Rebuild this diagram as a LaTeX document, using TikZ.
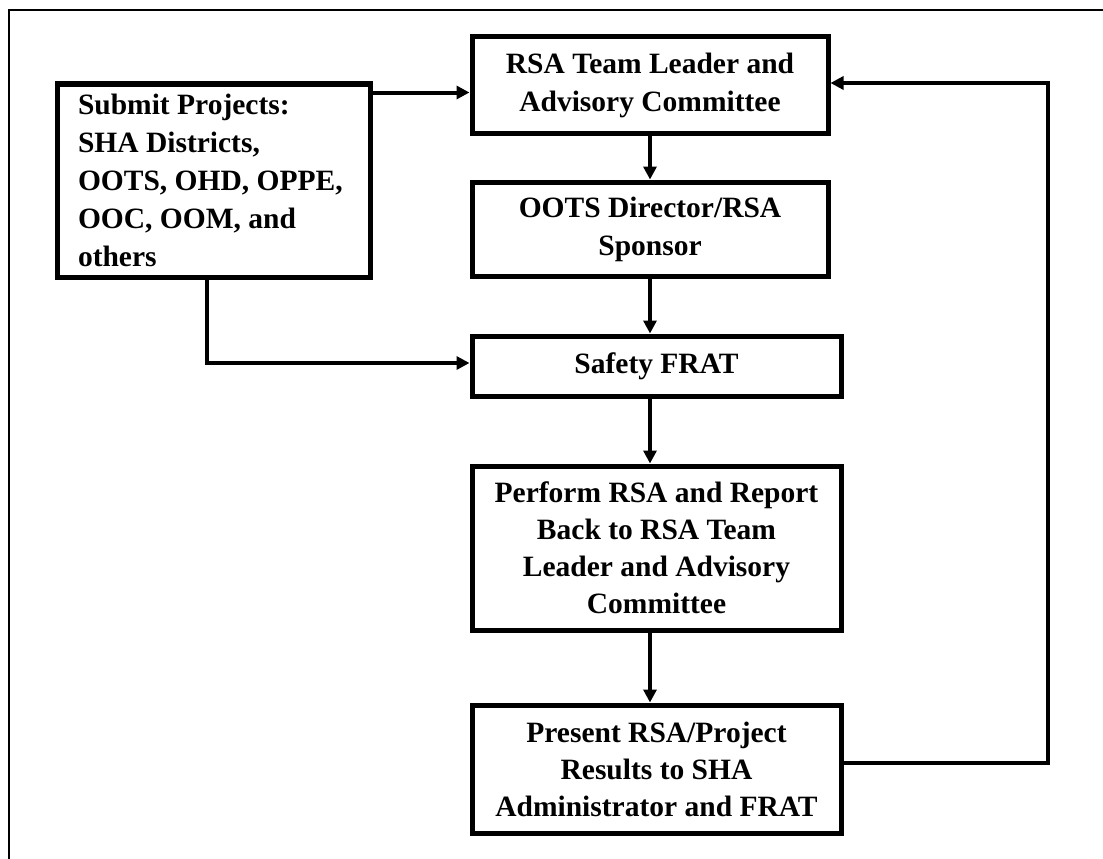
\documentclass[tikz,border=0pt]{standalone}
\usepackage{fontspec}
\setmainfont{Liberation Serif}
\usetikzlibrary{arrows.meta}
\tikzset{
  box/.style={draw=black, line width=5pt, fill=white, inner sep=2pt,
    font=\bfseries\fontsize{29.5}{38}\selectfont, align=center},
  arr/.style={draw=black, line width=4pt,
    -{Triangle[length=13pt,width=13pt]}},
  frameline/.style={draw=black, line width=2.5pt}
}
\begin{document}
\begin{tikzpicture}[x=1pt,y=1pt]
\useasboundingbox (0,0) rectangle (1103,-859);
\fill[white] (0,0) rectangle (1103,-859);
% outer frame (top and left edges visible)
\coordinate (fa) at (1103,-10);
\coordinate (fb) at (9,-10);
\coordinate (fc) at (9,-859);
\draw[frameline] (fa) -- (fb) -- (fc);

\node[box, minimum width=313, minimum height=193, align=left] (submit) at (213.5,-180.5)
  {\begin{minipage}{271pt}\raggedright
   Submit Projects:\\ SHA Districts,\\ OOTS, OHD, OPPE,\\ OOC, OOM, and\\ others\end{minipage}};
\node[box, minimum width=356, minimum height=96] (rsa) at (650,-85)
  {RSA Team Leader and\\ Advisory Committee};
\node[box, minimum width=356, minimum height=94] (oots) at (650,-229)
  {OOTS Director/RSA\\ Sponsor};
\node[box, minimum width=369, minimum height=60] (safety) at (656.5,-366)
  {Safety FRAT};
\node[box, minimum width=369, minimum height=164, font=\bfseries\fontsize{29.5}{37}\selectfont] (perform) at (656.5,-548)
  {Perform RSA and Report\\ Back to RSA Team\\ Leader and Advisory\\ Committee};
\node[box, minimum width=369, minimum height=128, font=\bfseries\fontsize{29.5}{37}\selectfont] (present) at (656.5,-769)
  {Present RSA/Project\\ Results to SHA\\ Administrator and FRAT};

% vertical chain
\draw[arr] (rsa.south) -- (oots.north);
\draw[arr] (oots.south) -- (oots.south |- safety.north);
\draw[arr] (safety.south -| oots.south) -- (perform.north -| oots.south);
\draw[arr] (perform.south -| oots.south) -- (present.north -| oots.south);

% submit connectors
\draw[arr] ([yshift=-11pt]submit.north east) -- ([yshift=-11pt]submit.north east -| rsa.west);
\draw[arr] ([xshift=-6.5pt]submit.south) |- ([yshift=3pt]safety.west);

% feedback loop
\coordinate (fbk) at (1048,-763);
\draw[arr] ([yshift=6pt]present.east) -- (fbk) |- ([yshift=2pt]rsa.east);
\end{tikzpicture}
\end{document}
